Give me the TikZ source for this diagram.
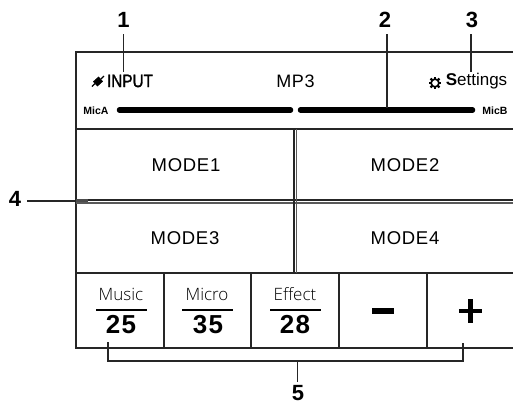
\documentclass[tikz,border=0pt]{standalone}
\usepackage{fontspec}
\setmainfont{Liberation Sans}
\newfontfamily\modefont[LetterSpace=4]{Liberation Sans}
\newfontfamily\valuefont[LetterSpace=5]{Liberation Sans}
\newfontfamily\namefont{Open Sans Light}
\newfontfamily\inputfont[FakeStretch=0.85,FakeBold=1.5]{Liberation Sans}
\usetikzlibrary{positioning}

\begin{document}
\begin{tikzpicture}[%
            x=1pt,
            y=-1pt,
            frameline/.style={line width=1.4pt,black!85},
            leader/.style={line width=1.2pt,black!85},
            callout/.style={font=\bfseries\fontsize{22}{22}\selectfont,inner sep=0pt},
            modelabel/.style={font=\modefont\fontsize{18.5}{18.5}\selectfont,inner sep=0pt},
            namelabel/.style={font=\fontsize{17}{17}\selectfont,inner sep=0pt},
            valuelabel/.style={font=\valuefont\bfseries\fontsize{26}{26}\selectfont,inner sep=0pt},
            miclabel/.style={font=\bfseries\fontsize{10.5}{10.5}\selectfont,inner sep=0pt},
            level/.style={line width=5.5pt,line cap=round}
            ]
            \useasboundingbox (0,0) rectangle (513,405);

            \draw[frameline] (513,52) -- (76,52) -- (76,348) -- (513,348);
            \draw[frameline] (76,129) -- (513,129);
            \draw[frameline] (76,200) -- (513,200);
            \draw[frameline,black!65] (76,203) -- (513,203);
            \draw[frameline] (76,273) -- (513,273);
            \draw[line width=3pt,black!70] (76,200.5) -- (88,200.5);
            \draw[frameline] (294,129) -- (294,273);
            \draw[frameline,black!65] (296.5,129) -- (296.5,273);
            \draw[frameline] (164,273) -- (164,348);
            \draw[frameline] (251,273) -- (251,348);
            \draw[frameline] (339,273) -- (339,348);
            \draw[frameline] (427,273) -- (427,348);

            \node[font=\inputfont\fontsize{18}{18}\selectfont,inner sep=0pt] (input) at (130,81) {INPUT};
            \draw[fill=black,line width=0.5pt,rotate around={42:(98,81.5)}] (94.5,78.5) rectangle (101.5,84.5);
            \draw[line width=1.4pt] (92,86.5) -- (95,83.5);
            \draw[line width=1.4pt] (101,79) -- (104,76);
            \node[font=\modefont\fontsize{18}{18}\selectfont,inner sep=0pt] (source) at (295.5,81) {MP3};
            \node[font=\fontsize{17}{17}\selectfont,inner sep=0pt] (settings) at (476.5,81) {\textbf{S}ettings};
            \coordinate (gear) at (435,83);
            \draw[line width=1.7pt] (gear) circle (3.9);
            \foreach \a in {0,45,...,315}
                \draw[line width=2.2pt] (gear) +(\a:4.2) -- +(\a:6.3);

            \node[miclabel] (mica) at (96,111) {MicA};
            \node[miclabel] (micb) at (495,111) {MicB};
            \coordinate (barA) at (119.5,110);
            \coordinate (barM) at (290.5,110);
            \coordinate (barN) at (300.5,110);
            \coordinate (barB) at (472.5,110);
            \draw[level] (barA) -- (barM);
            \draw[level] (barN) -- (barB);

            \node[modelabel] (mode1) at (186,165) {MODE1};
            \node[modelabel] (mode2) at (405,165) {MODE2};
            \node[modelabel] (mode3) at (185,238) {MODE3};
            \node[modelabel] (mode4) at (405,238) {MODE4};

            \node[namelabel] (music) at (121,294) {\namefont Music};
            \node[namelabel] (micro) at (207,294) {\namefont Micro};
            \node[namelabel] (effect) at (295,294) {\namefont Effect};
            \node[valuelabel] (val1) at (121,325) {25};
            \node[valuelabel] (val2) at (208,325) {35};
            \node[valuelabel] (val3) at (295,325) {28};
            \draw[line width=1.8pt] (96,310) -- (147,310);
            \draw[line width=1.8pt] (182,310) -- (233,310);
            \draw[line width=1.8pt] (270,310) -- (321,310);

            \coordinate (minus) at (383,311);
            \node[inner sep=0pt,minimum size=23pt] (plus) at (470.5,311) {};
            \draw[line width=6pt] ([xshift=-11pt]minus) -- ([xshift=11pt]minus);
            \draw[line width=4.5pt] (plus.west) -- (plus.east);
            \draw[line width=4.5pt] (plus.north) -- (plus.south);

            \node[callout] (c1) at (123.5,20) {1};
            \node[callout] (c2) at (385,20) {2};
            \node[callout] (c3) at (472,20) {3};
            \node[callout] (c4) at (15,199) {4};
            \node[callout] (c5) at (298,393.5) {5};

            \coordinate (t1) at (123.5,72);
            \coordinate (t2) at (387,108);
            \coordinate (t3) at (471,72);
            \coordinate (t4) at (76,201);
            \coordinate (b1) at (108,342);
            \coordinate (b2) at (463,343);
            \coordinate (t5) at (297.5,361);

            \draw[leader] (123.5,34) -- (t1);
            \draw[leader] (387,34) -- (t2);
            \draw[leader] (471,34) -- (t3);
            \draw[leader] (27,201) -- (t4);
            \draw[leader] (b1) -- (108,361) -- (463,361) -- (b2);
            \draw[leader] (t5) -- (297.5,382);
        \end{tikzpicture}
\end{document}
